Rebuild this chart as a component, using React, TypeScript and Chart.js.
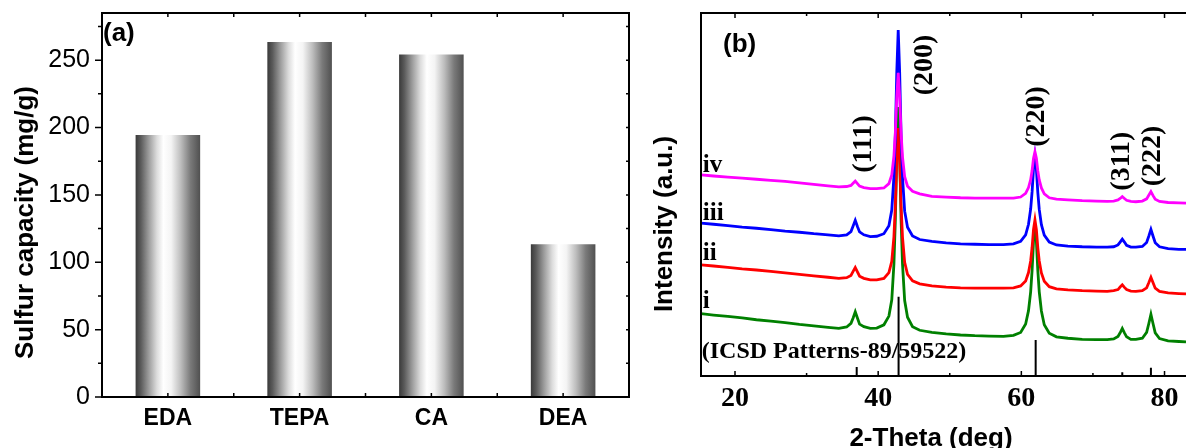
import React, { useEffect, useRef } from 'react';
import { Chart, registerables } from 'chart.js';

Chart.register(...registerables);

// ---------- Panel (a): sulfur capacity ----------
const sorbents = ['EDA', 'TEPA', 'CA', 'DEA'];
const sulfurCapacity = [194.4, 263.4, 254.2, 113.3];
const capacityTicks = [0, 50, 100, 150, 200, 250];

// ---------- Panel (b): XRD patterns ----------
const twoTheta = [15.25, 17, 19, 21, 23, 25, 27, 29, 31, 33, 34.5, 35.6, 36.2, 36.5, 36.8, 37.1, 37.4, 38.0, 38.9, 39.8, 40.8, 41.5, 41.9, 42.2, 42.4, 42.6, 42.8, 43.0, 43.2, 43.4, 43.7, 44.1, 44.8, 45.8, 47.5, 49.5, 51.5, 53.5, 55.5, 57.5, 58.9, 59.9, 60.6, 61.0, 61.3, 61.5, 61.7, 61.9, 62.1, 62.3, 62.5, 62.8, 63.2, 63.9, 64.9, 66.5, 68.5, 70.5, 72.0, 72.9, 73.5, 73.8, 74.1, 74.4, 74.7, 75.3, 76.0, 76.9, 77.5, 77.8, 78.1, 78.4, 78.7, 79.3, 80.5, 82.0, 83.0];
const patternIV = [55.4, 55.1, 54.8, 54.5, 54.2, 53.9, 53.6, 53.2, 52.8, 52.4, 52.1, 52.2, 52.5, 53.1, 53.7, 53.0, 52.3, 51.9, 51.6, 51.6, 51.8, 53.0, 55.4, 60.6, 67.1, 77.0, 83.5, 76.9, 67.0, 60.3, 54.9, 52.3, 50.9, 50.2, 49.5, 49.3, 49.1, 49.0, 49.0, 49.0, 49.0, 49.3, 50.3, 51.9, 54.1, 56.6, 60.0, 61.8, 60.0, 56.5, 54.0, 51.8, 50.2, 49.1, 48.7, 48.5, 48.3, 48.2, 48.1, 48.2, 48.5, 48.9, 49.4, 48.9, 48.4, 48.1, 48.0, 48.2, 48.8, 49.8, 50.8, 49.7, 48.7, 48.1, 47.8, 47.7, 47.6];
const patternIII = [42.1, 41.8, 41.4, 41.0, 40.7, 40.3, 39.9, 39.6, 39.2, 38.9, 38.6, 38.9, 39.8, 41.3, 42.9, 41.2, 39.7, 38.9, 38.4, 38.5, 39.2, 41.4, 45.7, 54.9, 66.4, 83.8, 95.3, 83.7, 66.3, 54.7, 45.4, 41.0, 38.6, 37.6, 37.1, 36.7, 36.4, 36.3, 36.2, 36.2, 36.4, 37.1, 38.9, 41.8, 46.0, 50.7, 57.1, 60.5, 57.0, 50.6, 45.9, 41.7, 38.8, 36.9, 36.1, 35.8, 35.6, 35.5, 35.5, 35.6, 36.1, 36.9, 37.7, 36.9, 36.0, 35.5, 35.5, 35.7, 36.8, 38.5, 40.4, 38.5, 36.7, 35.6, 35.1, 34.9, 34.9];
const patternII = [30.6, 30.3, 29.9, 29.5, 29.2, 28.8, 28.4, 28.0, 27.6, 27.2, 26.9, 27.1, 27.7, 28.8, 29.9, 28.7, 27.5, 26.9, 26.5, 26.5, 26.9, 28.5, 31.6, 38.4, 47.0, 59.8, 68.3, 59.7, 46.8, 38.2, 31.3, 28.0, 26.2, 25.4, 24.8, 24.5, 24.3, 24.2, 24.2, 24.2, 24.3, 24.8, 26.2, 28.5, 31.7, 35.4, 40.4, 43.0, 40.3, 35.3, 31.7, 28.4, 26.1, 24.6, 24.0, 23.7, 23.5, 23.4, 23.3, 23.5, 23.8, 24.5, 25.1, 24.4, 23.8, 23.4, 23.3, 23.5, 24.3, 25.7, 27.2, 25.7, 24.2, 23.3, 22.9, 22.7, 22.6];
const patternI = [17.2, 16.8, 16.4, 16.0, 15.5, 15.1, 14.7, 14.2, 13.8, 13.4, 13.1, 13.5, 14.5, 16.0, 17.7, 16.0, 14.3, 13.6, 13.1, 13.2, 14.1, 16.5, 21.0, 30.9, 43.2, 61.7, 74.1, 61.7, 43.1, 30.8, 20.8, 16.2, 13.6, 12.6, 12.0, 11.6, 11.3, 11.1, 11.0, 10.9, 11.2, 12.0, 14.3, 18.0, 23.2, 29.1, 37.2, 41.5, 37.1, 29.1, 23.2, 17.9, 14.1, 11.8, 10.8, 10.4, 10.1, 10.0, 10.0, 10.2, 10.9, 11.9, 13.1, 11.9, 10.8, 10.1, 10.1, 10.4, 12.0, 14.4, 17.0, 14.4, 11.9, 10.3, 9.7, 9.5, 9.4];
const icsdPositions = [37.0, 42.85, 62.0, 74.1, 78.1];
const icsdHeights = [2.5, 21.8, 9.9, 1.0, 2.3];
const hklLabels = ['(111)', '(200)', '(220)', '(311)', '(222)'];
const hklLabelX = [38.0, 46.5, 62.1, 74.0, 78.4];
const hklLabelY = [63.9, 85.7, 71.5, 59.2, 60.6];
const sampleLabels = ['i', 'ii', 'iii', 'iv'];
const sampleLabelY = [18.7, 32.0, 43.0, 56.3];
const sampleLabelX = 15.5;
const thetaTicks = [20, 40, 60, 80];
const icsdText = '(ICSD Patterns-89/59522)';

const SANS = '"Liberation Sans", Arial, sans-serif';
const SERIF = '"Liberation Serif", "Times New Roman", serif';

function barGradient(ctx: any) {
  const chart = ctx.chart;
  const area = chart.chartArea;
  if (!area || ctx.dataIndex === undefined) return '#888888';
  const xs = chart.scales.x;
  const cx = xs.getPixelForValue(ctx.dataIndex);
  const w = (xs.width / sorbents.length) * 0.49;
  const g = chart.ctx.createLinearGradient(cx - w / 2, 0, cx + w / 2, 0);
  g.addColorStop(0, '#3a3a3a');
  g.addColorStop(0.08, '#5a5a5a');
  g.addColorStop(0.2, '#9a9a9a');
  g.addColorStop(0.33, '#dcdcdc');
  g.addColorStop(0.43, '#ffffff');
  g.addColorStop(0.55, '#f4f4f4');
  g.addColorStop(0.7, '#bdbdbd');
  g.addColorStop(0.85, '#7a7a7a');
  g.addColorStop(1, '#505050');
  return g;
}

const barFrame = {
  id: 'barFrame',
  afterDraw(chart: any) {
    const { ctx, chartArea: a, scales } = chart;
    const xs = scales.x;
    const ys = scales.y;
    ctx.save();
    ctx.strokeStyle = '#000';
    ctx.lineWidth = 2;
    ctx.strokeRect(a.left, a.top, a.right - a.left, a.bottom - a.top);
    ctx.lineWidth = 1.5;
    ctx.beginPath();
    for (let v = 0; v <= 275; v += 25) {
      const py = ys.getPixelForValue(v);
      const len = v % 50 === 0 ? 7 : 4;
      ctx.moveTo(a.left - len, py);
      ctx.lineTo(a.left, py);
      ctx.moveTo(a.right, py);
      ctx.lineTo(a.right - 3, py);
    }
    const half = (xs.getPixelForValue(1) - xs.getPixelForValue(0)) / 2;
    for (let i = 0; i < sorbents.length; i++) {
      const c = xs.getPixelForValue(i);
      [c - half, c].forEach((px) => {
        ctx.moveTo(px, a.bottom);
        ctx.lineTo(px, a.bottom - 4);
        ctx.moveTo(px, a.top);
        ctx.lineTo(px, a.top + 4);
      });
    }
    ctx.stroke();
    ctx.fillStyle = '#000';
    ctx.font = 'bold 26px ' + SANS;
    ctx.textAlign = 'left';
    ctx.textBaseline = 'alphabetic';
    ctx.fillText('(a)', a.left + 1, a.top + 28);
    ctx.save();
    ctx.translate(33, 222.5);
    ctx.rotate(-Math.PI / 2);
    ctx.textAlign = 'center';
    ctx.fillText('Sulfur capacity (mg/g)', 0, 0);
    ctx.restore();
    ctx.restore();
  },
};

const xrdDecor = {
  id: 'xrdDecor',
  afterDraw(chart: any) {
    const { ctx, chartArea: a, scales } = chart;
    const xs = scales.x;
    const ys = scales.y;
    ctx.save();
    ctx.strokeStyle = '#000';
    ctx.lineWidth = 2;
    ctx.beginPath();
    ctx.moveTo(a.right + 2, a.top);
    ctx.lineTo(a.left, a.top);
    ctx.lineTo(a.left, a.bottom);
    ctx.lineTo(a.right + 2, a.bottom);
    ctx.stroke();
    ctx.lineWidth = 1.5;
    ctx.beginPath();
    for (let v = 20; v <= 80; v += 10) {
      const px = xs.getPixelForValue(v);
      const len = v % 20 === 0 ? 5 : 3;
      ctx.moveTo(px, a.bottom);
      ctx.lineTo(px, a.bottom - len);
      ctx.moveTo(px, a.top);
      ctx.lineTo(px, a.top + len);
    }
    ctx.stroke();

    ctx.fillStyle = '#000';
    ctx.font = 'bold 28px ' + SERIF;
    ctx.textAlign = 'center';
    ctx.textBaseline = 'middle';
    hklLabels.forEach((t, i) => {
      ctx.save();
      ctx.translate(xs.getPixelForValue(hklLabelX[i]), ys.getPixelForValue(hklLabelY[i]));
      ctx.rotate(-Math.PI / 2);
      ctx.fillText(t, 0, 0);
      ctx.restore();
    });
    ctx.font = 'bold 25px ' + SERIF;
    ctx.textAlign = 'left';
    ctx.textBaseline = 'alphabetic';
    sampleLabels.forEach((t, i) => {
      ctx.fillText(t, xs.getPixelForValue(sampleLabelX), ys.getPixelForValue(sampleLabelY[i]));
    });
    ctx.font = 'bold 24px ' + SERIF;
    ctx.fillText(icsdText, xs.getPixelForValue(15.35), ys.getPixelForValue(5.0));
    ctx.font = 'bold 26px ' + SANS;
    ctx.fillText('(b)', a.left + 22, a.top + 39);
    ctx.textAlign = 'center';
    ctx.fillText('2-Theta (deg)', 291, 446);
    ctx.save();
    ctx.translate(32, 224);
    ctx.rotate(-Math.PI / 2);
    ctx.fillText('Intensity (a.u.)', 0, 0);
    ctx.restore();
    ctx.restore();
  },
};

function toPoints(ys: number[]) {
  return twoTheta.map((x, i) => ({ x, y: ys[i] }));
}

function stickPoints() {
  const pts: any[] = [];
  icsdPositions.forEach((p, i) => {
    pts.push({ x: p, y: 0 }, { x: p, y: icsdHeights[i] }, { x: p, y: null });
  });
  return pts;
}

function zeroPad(s: any) {
  s.paddingTop = 0;
  s.paddingBottom = 0;
  s.paddingLeft = 0;
  s.paddingRight = 0;
}

export default function App() {
  const leftRef = useRef<HTMLCanvasElement>(null);
  const rightRef = useRef<HTMLCanvasElement>(null);

  useEffect(() => {
    const bar = new Chart(leftRef.current as HTMLCanvasElement, {
      type: 'bar',
      data: {
        labels: sorbents,
        datasets: [
          {
            data: sulfurCapacity,
            backgroundColor: barGradient as any,
            borderWidth: 0,
            barPercentage: 0.49,
            categoryPercentage: 1,
          },
        ],
      },
      options: {
        responsive: false,
        animation: false,
        devicePixelRatio: 1,
        layout: { padding: { left: 0, right: 11, top: 13, bottom: 0 } },
        plugins: { legend: { display: false }, tooltip: { enabled: false } },
        scales: {
          x: {
            grid: { display: false, drawTicks: false },
            border: { display: false },
            ticks: { color: '#000', font: { family: SANS, size: 23, weight: 'bold' }, padding: 8 },
            afterFit: (s: any) => {
              s.height = 51;
              zeroPad(s);
            },
          },
          y: {
            min: 0,
            max: 285,
            grid: { display: false, drawTicks: false },
            border: { display: false },
            ticks: { color: '#000', font: { family: SANS, size: 25 }, padding: 12 },
            afterBuildTicks: (s: any) => {
              s.ticks = capacityTicks.map((v) => ({ value: v }));
            },
            afterFit: (s: any) => {
              s.width = 102;
              zeroPad(s);
            },
          },
        },
      } as any,
      plugins: [barFrame],
    });

    const xrd = new Chart(rightRef.current as HTMLCanvasElement, {
      type: 'line',
      data: {
        datasets: [
          { data: toPoints(patternIV), borderColor: '#ff00ff', borderWidth: 2.8, pointRadius: 0, tension: 0 },
          { data: toPoints(patternIII), borderColor: '#0000ff', borderWidth: 2.8, pointRadius: 0, tension: 0 },
          { data: toPoints(patternII), borderColor: '#ff0000', borderWidth: 2.8, pointRadius: 0, tension: 0 },
          { data: toPoints(patternI), borderColor: '#008000', borderWidth: 2.8, pointRadius: 0, tension: 0 },
          { data: stickPoints(), borderColor: '#000000', borderWidth: 2, pointRadius: 0, tension: 0, spanGaps: false },
        ] as any,
      },
      options: {
        responsive: false,
        animation: false,
        devicePixelRatio: 1,
        layout: { padding: { left: 0, right: 0, top: 13, bottom: 0 } },
        plugins: { legend: { display: false }, tooltip: { enabled: false } },
        scales: {
          x: {
            type: 'linear',
            min: 15.25,
            max: 83.0,
            grid: { display: false, drawTicks: false },
            border: { display: false },
            ticks: { color: '#000', font: { family: SERIF, size: 28, weight: 'bold' }, padding: 6, autoSkip: false },
            afterBuildTicks: (s: any) => {
              s.ticks = thetaTicks.map((v) => ({ value: v }));
            },
            afterFit: (s: any) => {
              s.height = 72;
              zeroPad(s);
            },
          },
          y: {
            min: 0,
            max: 100,
            grid: { display: false, drawTicks: false },
            border: { display: false },
            ticks: { display: false },
            afterFit: (s: any) => {
              s.width = 61;
              zeroPad(s);
            },
          },
        },
      } as any,
      plugins: [xrdDecor],
    });

    return () => {
      bar.destroy();
      xrd.destroy();
    };
  }, []);

  return (
    <div style={{ position: 'absolute', left: 0, top: 0, width: 1186, height: 448, background: '#fff', overflow: 'hidden' }}>
      <canvas ref={leftRef} width={640} height={448} style={{ position: 'absolute', left: 0, top: 0, width: 640, height: 448 }} />
      <canvas ref={rightRef} width={546} height={448} style={{ position: 'absolute', left: 640, top: 0, width: 546, height: 448 }} />
    </div>
  );
}
